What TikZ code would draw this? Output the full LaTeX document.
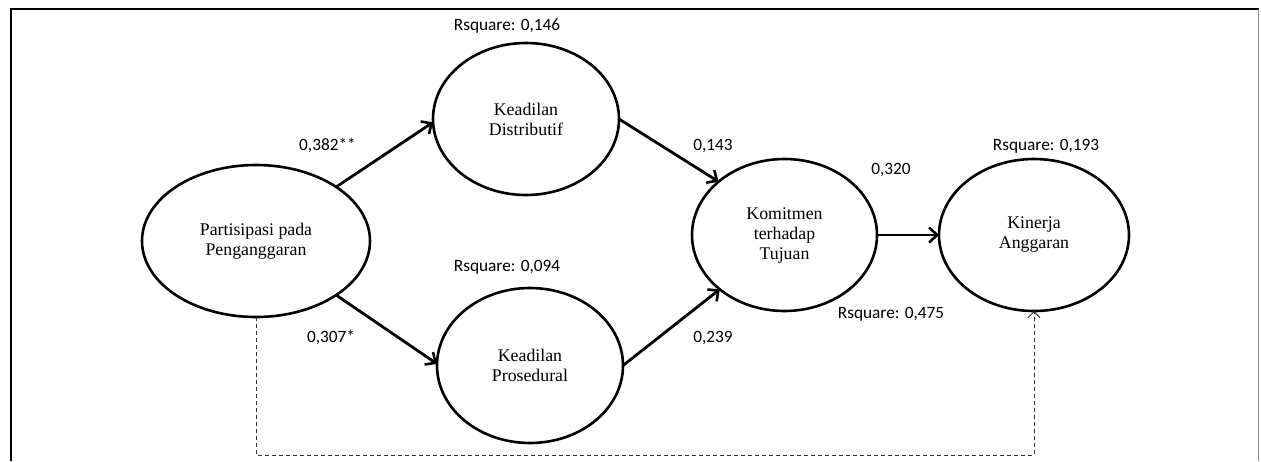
\documentclass[tikz,border=0pt]{standalone}
\usepackage{fontspec}
\setmainfont{Liberation Serif}
\newfontfamily\labelfont{Carlito}
\usetikzlibrary{shapes.geometric,arrows.meta}
\begin{document}
\begin{tikzpicture}[x=1pt,y=-1pt,
  construct/.style={draw, line width=2.6pt, ellipse, inner sep=0pt, outer sep=0pt,
    align=center, font=\fontsize{17.8}{20}\selectfont},
  link/.style={line width=2.8pt, -{Straight Barb[length=8pt,width=15pt,line width=2.6pt]}},
  direct/.style={dash pattern=on 4pt off 3pt, line width=1pt, black!80,
    -{Straight Barb[length=6pt,width=12pt,line width=1pt]}},
  coef/.style={anchor=base, inner sep=0pt, text=black,
    font=\labelfont\fontsize{17.3}{20}\selectfont}
]
\useasboundingbox (0,0) rectangle (1261,461);

% frame
\draw[line width=2pt] (11,461) -- (11,9) -- (1259,9);
\draw[black!45, line width=1pt] (1258.5,9) -- (1258.5,461);

% constructs
\node[construct, minimum width=228pt, minimum height=152pt] (pp) at (256,241) {Partisipasi pada\\Penganggaran};
\node[construct, minimum width=186pt, minimum height=152pt] (kd) at (526,119) {Keadilan\\Distributif};
\node[construct, minimum width=186pt, minimum height=155pt] (kp) at (530,365.5) {Keadilan\\Prosedural};
\node[construct, minimum width=185pt, minimum height=152pt] (kt) at (784.5,235) {Komitmen\\terhadap\\Tujuan};
\node[construct, minimum width=190pt, minimum height=152pt] (ka) at (1034,235) {Kinerja\\Anggaran};

% paths
\draw[link] (pp.34) -- (kd.182);
\draw[link] (pp.-34) -- (kp.179);
\draw[link] (kd.east) -- (kt.141);
\draw[link] (kp.east) -- (kt.220);
\draw[link] (kt.east) -- (ka.west);

% direct effect
\coordinate (low) at (256,455);
\draw[direct] (pp.south) -- (low) -| (ka.south);

% coefficients and R-square values
\node[coef] (r1) at (507,30) {Rsquare: 0,146};
\node[coef] (b1) at (327.5,150) {0,382**};
\node[coef] (b3) at (713,150) {0,143};
\node[coef] (b5) at (891,174) {0,320};
\node[coef] (r4) at (1046,150) {Rsquare: 0,193};
\node[coef] (r2) at (507,271) {Rsquare: 0,094};
\node[coef] (b2) at (331,342) {0,307*};
\node[coef] (b4) at (713,342) {0,239};
\node[coef] (r3) at (891,318) {Rsquare: 0,475};
\end{tikzpicture}
\end{document}
